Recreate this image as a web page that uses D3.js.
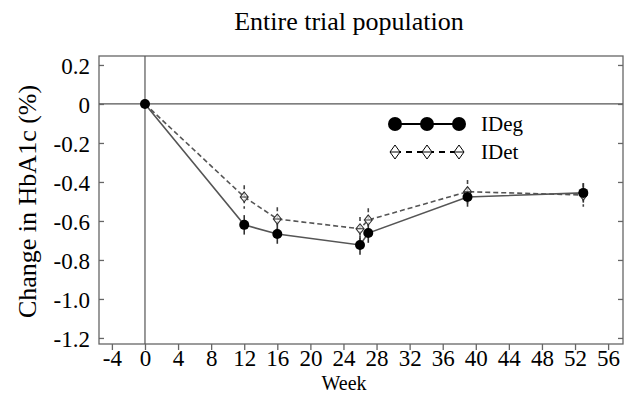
<!DOCTYPE html>
<html>
<head>
<meta charset="utf-8">
<script src="https://cdn.jsdelivr.net/npm/d3@7"></script>
<style>
  body { margin: 0; background: #fff; }
  text { font-family: "Liberation Serif", "Times New Roman", serif; fill: #000; }
</style>
</head>
<body>
<svg id="chart" width="630" height="394"></svg>
<script>
// data
const weeks = [0, 12, 16, 26, 27, 39, 53];
const idegValues = [0, -0.62, -0.667, -0.723, -0.662, -0.477, -0.456];
const idetValues = [0, -0.477, -0.59, -0.64, -0.595, -0.45, -0.467];
const idegErr = [0, 0.05, 0.05, 0.05, 0.05, 0.05, 0.05];
const idetErr = [0, 0.06, 0.06, 0.06, 0.06, 0.06, 0.06];
const xTicks = [-4, 0, 4, 8, 12, 16, 20, 24, 28, 32, 36, 40, 44, 48, 52, 56];
const yTicks = [0.2, 0, -0.2, -0.4, -0.6, -0.8, -1.0, -1.2];
const seriesNames = ["IDeg", "IDet"];

const svg = d3.select("#chart");
const margin = { top: 56, right: 7, bottom: 50, left: 99 };
const width = 630 - margin.left - margin.right;
const height = 394 - margin.top - margin.bottom;

const x = d3.scaleLinear().domain([-5.56, 57.8]).range([0, width]);
const y = d3.scaleLinear().domain([-1.231, 0.246]).range([height, 0]);

const g = svg.append("g").attr("transform", `translate(${margin.left},${margin.top})`);

// frame
g.append("rect")
    .attr("width", width)
    .attr("height", height)
    .attr("fill", "none")
    .attr("stroke", "#666")
    .attr("stroke-width", 1.3);

// zero lines
g.append("line")
    .attr("x1", 0).attr("x2", width)
    .attr("y1", y(0)).attr("y2", y(0))
    .attr("stroke", "#555").attr("stroke-width", 1.2);
g.append("line")
    .attr("x1", x(0)).attr("x2", x(0))
    .attr("y1", 0).attr("y2", height)
    .attr("stroke", "#555").attr("stroke-width", 1.2);

// axes (plain hyphen for negatives, like the original)
const fmtY = d => d === 0 ? "0" : d3.format(".1f")(d).replace("−", "-");
const fmtX = d => String(d);

const xAxis = g.append("g")
    .attr("transform", `translate(0,${height})`)
    .call(d3.axisBottom(x).tickValues(xTicks).tickSize(6).tickPadding(1).tickFormat(fmtX));
const yAxis = g.append("g")
    .call(d3.axisLeft(y).tickValues(yTicks).tickSize(-5).tickPadding(9).tickFormat(fmtY));
const yAxisR = g.append("g")
    .attr("transform", `translate(${width},0)`)
    .call(d3.axisRight(y).tickValues(yTicks).tickSize(-5).tickFormat(""));

[xAxis, yAxis, yAxisR].forEach(a => {
    a.attr("font-family", "Liberation Serif").attr("font-size", 23);
    a.select(".domain").remove();
    a.selectAll(".tick line").attr("stroke", "#666").attr("stroke-width", 1.3);
    a.selectAll("text").attr("fill", "#000");
});
xAxis.selectAll("text").attr("dy", "0.66em");
yAxis.selectAll("text").attr("dy", "0.35em");

// titles
svg.append("text")
    .attr("x", 349).attr("y", 30)
    .attr("text-anchor", "middle")
    .style("font-size", "26px")
    .text("Entire trial population");
svg.append("text")
    .attr("x", 344).attr("y", 389.5)
    .attr("text-anchor", "middle")
    .style("font-size", "20px")
    .text("Week");
svg.append("text")
    .attr("transform", `translate(36,${margin.top + y(-0.5)}) rotate(-90)`)
    .attr("text-anchor", "middle")
    .style("font-size", "26px")
    .text("Change in HbA1c (%)");

const ideg = weeks.map((w, i) => ({ w, v: idegValues[i], e: idegErr[i] }));
const idet = weeks.map((w, i) => ({ w, v: idetValues[i], e: idetErr[i] }));

const line = d3.line().x(d => x(d.w)).y(d => y(d.v));

// IDet (dashed)
g.selectAll(".idet-err")
    .data(idet.filter(d => d.e > 0))
    .enter().append("line")
    .attr("x1", d => x(d.w)).attr("x2", d => x(d.w))
    .attr("y1", d => y(d.v + d.e)).attr("y2", d => y(d.v - d.e))
    .attr("stroke", "#444").attr("stroke-width", 1.6)
    .attr("stroke-dasharray", "4,3");
g.append("path")
    .datum(idet)
    .attr("d", line)
    .attr("fill", "none")
    .attr("stroke", "#555")
    .attr("stroke-width", 1.6)
    .attr("stroke-dasharray", "5,3");

// IDeg (solid)
g.selectAll(".ideg-err")
    .data(ideg.filter(d => d.e > 0))
    .enter().append("line")
    .attr("x1", d => x(d.w)).attr("x2", d => x(d.w))
    .attr("y1", d => y(d.v + d.e)).attr("y2", d => y(d.v - d.e))
    .attr("stroke", "#333").attr("stroke-width", 1.6);
g.append("path")
    .datum(ideg)
    .attr("d", line)
    .attr("fill", "none")
    .attr("stroke", "#555")
    .attr("stroke-width", 1.6);

function diamond(sel, cx, cy, r) {
    sel.append("path")
        .attr("d", `M${cx},${cy - r * 1.25}L${cx + r},${cy}L${cx},${cy + r * 1.25}L${cx - r},${cy}Z M${cx - r},${cy}L${cx + r},${cy}`)
        .attr("fill", "#fff")
        .attr("fill-opacity", 0.7)
        .attr("stroke", "#333")
        .attr("stroke-width", 1.1);
}

idet.filter(d => d.w > 0).forEach(d => diamond(g, x(d.w), y(d.v), 4));

g.selectAll(".ideg-pt")
    .data(ideg)
    .enter().append("circle")
    .attr("cx", d => x(d.w)).attr("cy", d => y(d.v))
    .attr("r", 5)
    .attr("fill", "#000");

// legend
const lg = svg.append("g").attr("transform", "translate(395,124)");
lg.append("line").attr("x1", 0).attr("x2", 64).attr("y1", 0).attr("y2", 0)
    .attr("stroke", "#000").attr("stroke-width", 2);
[0, 32, 64].forEach(cx => lg.append("circle").attr("cx", cx).attr("cy", 0).attr("r", 7).attr("fill", "#000"));
lg.append("line").attr("x1", 0).attr("x2", 64).attr("y1", 28).attr("y2", 28)
    .attr("stroke", "#000").attr("stroke-width", 2).attr("stroke-dasharray", "6,5");
[0, 32, 64].forEach(cx => {
    lg.append("path")
        .attr("d", `M${cx},${28 - 7}L${cx + 5},28L${cx},${28 + 7}L${cx - 5},28Z M${cx - 5},28L${cx + 5},28`)
        .attr("fill", "#fff").attr("stroke", "#000").attr("stroke-width", 1);
});
lg.selectAll(".lt")
    .data(seriesNames)
    .enter().append("text")
    .attr("x", 86).attr("y", (d, i) => i * 28 + 7)
    .style("font-size", "21px")
    .text(d => d);
</script>
</body>
</html>
